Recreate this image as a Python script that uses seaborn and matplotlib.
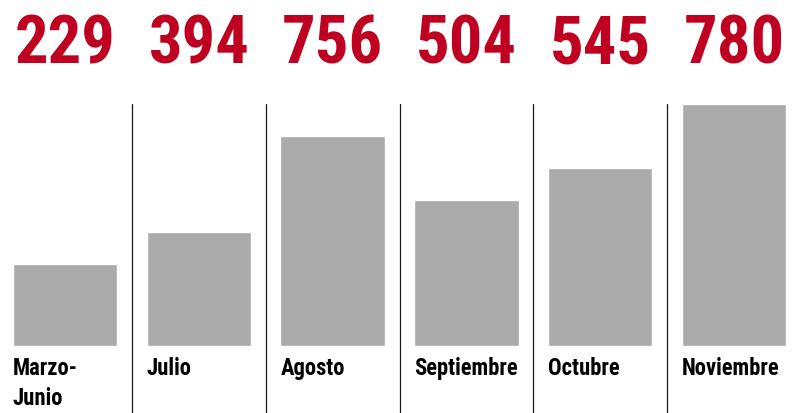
import matplotlib
matplotlib.use("Agg")
import matplotlib.pyplot as plt
import pandas as pd
import seaborn as sns

# datos
meses = ['Marzo-\nJunio', 'Julio', 'Agosto', 'Septiembre', 'Octubre', 'Noviembre']
casos = [229, 394, 756, 504, 545, 780]
# alturas de las barras tal como aparecen en el gráfico original
alturas = [264, 367, 677, 471, 574, 780]

df = pd.DataFrame({'mes': meses, 'casos': casos, 'altura': alturas})

sns.set_style('white')
plt.rcParams['font.family'] = ['Roboto Condensed', 'Liberation Sans Narrow', 'DejaVu Sans']

rojo = '#BF0021'
gris = '#ABABAB'

fig = plt.figure(figsize=(7.94, 4.14), dpi=100)
ax = fig.add_axes([0, 0, 1, 1])

sns.barplot(data=df, x='mes', y='altura', color=gris, width=0.78,
            saturation=1, ax=ax)

# escala: 1 px = 780/242 unidades
k = 780 / 242
ax.set_xlim(-0.486, 5.448)
ax.set_ylim(-67 * k, 347 * k)

for i in range(1, len(meses)):
    ax.axvline(i - 0.5, ymin=0, ymax=(414 - 105) / 414, color='#1a1a1a', lw=0.9)

for i, row in df.iterrows():
    ax.text(i, (347 - 63) * k, str(row['casos']), ha='center', va='baseline',
            color=rojo, fontsize=48, fontweight='heavy')
    ax.text(i - 0.39, (347 - 357) * k, row['mes'], ha='left', va='top',
            color='black', fontsize=16.3, fontweight='heavy', linespacing=1.38)

ax.axis('off')
fig.savefig('out.png', dpi=100)
